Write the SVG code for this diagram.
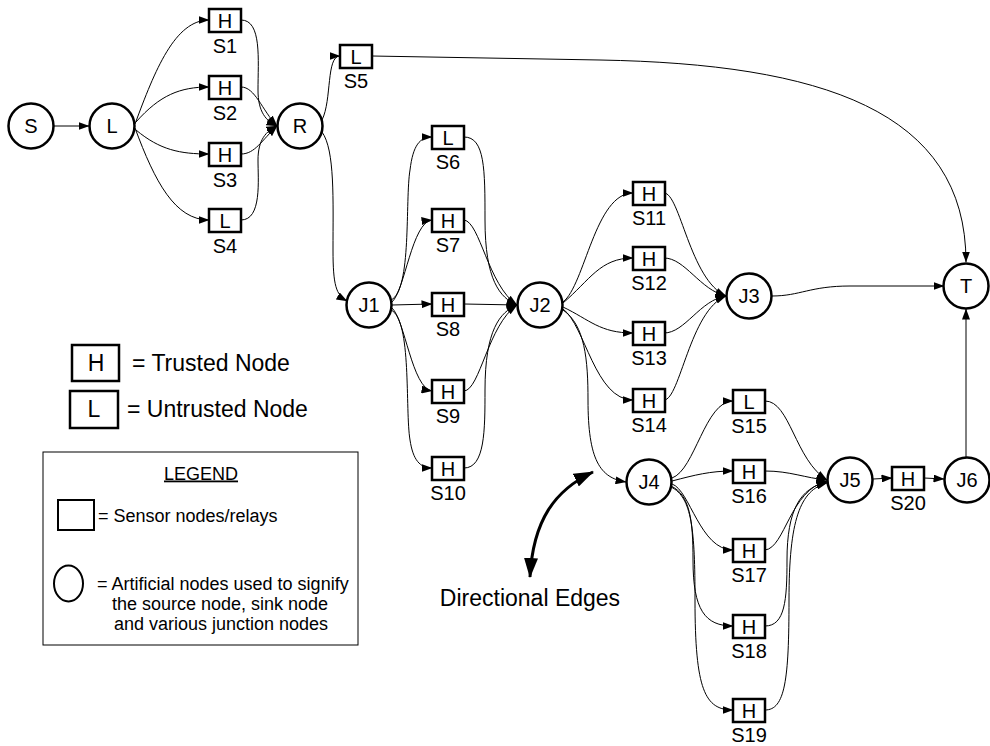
<svg xmlns="http://www.w3.org/2000/svg" width="990" height="746" viewBox="0 0 990 746">
<style>
.c{fill:#fff;stroke:#000;stroke-width:2.5}
.b{fill:#fff;stroke:#000;stroke-width:2.5}
.t{font-family:"Liberation Sans",Arial,sans-serif;font-size:20px;fill:#000;text-anchor:middle}
.e{fill:none;stroke:#000;stroke-width:1;marker-end:url(#ah)}
.lg{font-family:"Liberation Sans",Arial,sans-serif;font-size:18px;fill:#000}
.big{font-family:"Liberation Sans",Arial,sans-serif;font-size:23px;fill:#000}
</style>
<defs>
<marker id="ah" markerUnits="userSpaceOnUse" markerWidth="11" markerHeight="8" refX="10.5" refY="4" orient="auto"><path d="M0,0 L11,4 L0,8 z" fill="#000"/></marker>
<marker id="bh" markerUnits="userSpaceOnUse" markerWidth="20" markerHeight="14" refX="19" refY="7" orient="auto-start-reverse"><path d="M0,0 L20,7 L0,14 z" fill="#000"/></marker>
</defs>
<rect width="990" height="746" fill="#fff"/>
<g id="connectors">
<path class="e" d="M53,126 L89,126"/>
<path class="e" d="M135,124 C155,70 175,20 209,20"/>
<path class="e" d="M136,122 C160,95 180,87 209,87"/>
<path class="e" d="M136,130 C160,150 180,154 209,154"/>
<path class="e" d="M135,128 C155,182 175,220 209,220"/>
<path class="e" d="M241,20 C262,20 258,60 258,90 C258,112 266,121 277,126"/>
<path class="e" d="M241,87 C255,87 262,110 277,126"/>
<path class="e" d="M241,154 C255,154 262,140 277,126"/>
<path class="e" d="M241,220 C262,220 258,180 258,160 C258,140 266,131 277,126"/>
<path class="e" d="M322,120 C332,100 326,56 340,56"/>
<path class="e" d="M322,132 C335,150 333,200 333,250 C333,285 336,295 347,301"/>
<path class="e" d="M372,56 L600,60 C820,64 966,110 966,262"/>
<path class="e" d="M391,300 C412,290 405,200 410,170 C413,145 420,137 432,137"/>
<path class="e" d="M392,302 C405,290 412,222 432,220"/>
<path class="e" d="M392,305 L432,304"/>
<path class="e" d="M392,308 C405,320 412,388 432,391"/>
<path class="e" d="M391,310 C412,320 405,410 410,440 C413,460 420,468 432,468"/>
<path class="e" d="M464,137 C485,137 485,170 485,220 C485,280 500,298 517,305"/>
<path class="e" d="M464,220 C480,222 488,285 517,305"/>
<path class="e" d="M464,304 L517,305"/>
<path class="e" d="M464,391 C480,390 488,325 517,305"/>
<path class="e" d="M464,468 C485,468 485,430 485,390 C485,330 500,312 517,305"/>
<path class="e" d="M563,302 C585,285 595,193 633,193"/>
<path class="e" d="M563,303 C590,280 600,258 633,258"/>
<path class="e" d="M563,307 C590,320 600,333 633,333"/>
<path class="e" d="M563,309 C585,325 595,400 633,400"/>
<path class="e" d="M563,310 C585,325 588,360 588,400 C588,460 600,478 626,482"/>
<path class="e" d="M664,193 C680,193 690,280 726,296"/>
<path class="e" d="M664,258 C685,258 700,290 726,296"/>
<path class="e" d="M664,333 C685,333 700,300 726,296"/>
<path class="e" d="M664,400 C680,400 690,310 726,296"/>
<path class="e" d="M772,296 C800,296 810,286 850,286 L944,286"/>
<path class="e" d="M672,478 C695,470 705,401 733,401"/>
<path class="e" d="M672,481 C695,475 710,471 733,471"/>
<path class="e" d="M672,484 C690,490 700,550 733,550"/>
<path class="e" d="M671,486 C690,495 693,520 693,560 C693,610 705,626 733,626"/>
<path class="e" d="M671,487 C692,497 695,530 695,600 C695,690 705,710 733,710"/>
<path class="e" d="M765,401 C790,401 795,460 827,480"/>
<path class="e" d="M765,471 C790,471 805,478 827,480"/>
<path class="e" d="M765,550 C785,548 790,490 827,481"/>
<path class="e" d="M765,626 C785,626 787,600 787,560 C787,510 800,488 827,482"/>
<path class="e" d="M765,710 C785,710 789,680 789,600 C789,520 800,490 827,483"/>
<path class="e" d="M873,479 L892,478"/>
<path class="e" d="M924,478 L944,479"/>
<path class="e" d="M966,457 L966,309"/>
<path d="M530,577 C533,520 555,490 593,472" fill="none" stroke="#000" stroke-width="3" marker-start="url(#bh)" marker-end="url(#bh)"/>
</g>
<g id="S"><circle class="c" cx="31" cy="126" r="22.5"/><text class="t" x="31" y="133">S</text></g>
<g id="L"><circle class="c" cx="112" cy="126" r="22.5"/><text class="t" x="112" y="133">L</text></g>
<g id="R"><circle class="c" cx="300" cy="126" r="22.5"/><text class="t" x="300" y="133">R</text></g>
<g id="J1"><circle class="c" cx="369" cy="305" r="22.5"/><text class="t" x="369" y="312">J1</text></g>
<g id="J2"><circle class="c" cx="540" cy="305" r="22.5"/><text class="t" x="540" y="312">J2</text></g>
<g id="J3"><circle class="c" cx="749" cy="296" r="22.5"/><text class="t" x="749" y="303">J3</text></g>
<g id="J4"><circle class="c" cx="649" cy="482" r="22.5"/><text class="t" x="649" y="489">J4</text></g>
<g id="J5"><circle class="c" cx="850" cy="480" r="22.5"/><text class="t" x="850" y="487">J5</text></g>
<g id="J6"><circle class="c" cx="967" cy="480" r="22.5"/><text class="t" x="967" y="487">J6</text></g>
<g id="T"><circle class="c" cx="966" cy="286" r="22.5"/><text class="t" x="966" y="293">T</text></g>
<g id="S1"><rect class="b" x="209" y="9" width="32" height="23"/><text class="t" x="225" y="27.5">H</text><text class="t" x="225" y="53">S1</text></g>
<g id="S2"><rect class="b" x="209" y="76" width="32" height="23"/><text class="t" x="225" y="94.5">H</text><text class="t" x="225" y="120">S2</text></g>
<g id="S3"><rect class="b" x="209" y="143" width="32" height="23"/><text class="t" x="225" y="161.5">H</text><text class="t" x="225" y="187">S3</text></g>
<g id="S4"><rect class="b" x="209" y="209" width="32" height="23"/><text class="t" x="225" y="227.5">L</text><text class="t" x="225" y="253">S4</text></g>
<g id="S5"><rect class="b" x="340" y="45" width="32" height="23"/><text class="t" x="356" y="63.5">L</text><text class="t" x="356" y="88">S5</text></g>
<g id="S6"><rect class="b" x="432" y="126" width="32" height="23"/><text class="t" x="448" y="144.5">L</text><text class="t" x="448" y="169">S6</text></g>
<g id="S7"><rect class="b" x="432" y="209" width="32" height="23"/><text class="t" x="448" y="227.5">H</text><text class="t" x="448" y="252">S7</text></g>
<g id="S8"><rect class="b" x="432" y="293" width="32" height="23"/><text class="t" x="448" y="311.5">H</text><text class="t" x="448" y="336">S8</text></g>
<g id="S9"><rect class="b" x="432" y="380" width="32" height="23"/><text class="t" x="448" y="398.5">H</text><text class="t" x="448" y="423">S9</text></g>
<g id="S10"><rect class="b" x="432" y="457" width="32" height="23"/><text class="t" x="448" y="475.5">H</text><text class="t" x="448" y="500">S10</text></g>
<g id="S11"><rect class="b" x="633" y="182" width="32" height="23"/><text class="t" x="649" y="200.5">H</text><text class="t" x="649" y="225">S11</text></g>
<g id="S12"><rect class="b" x="633" y="247" width="32" height="23"/><text class="t" x="649" y="265.5">H</text><text class="t" x="649" y="290">S12</text></g>
<g id="S13"><rect class="b" x="633" y="322" width="32" height="23"/><text class="t" x="649" y="340.5">H</text><text class="t" x="649" y="365">S13</text></g>
<g id="S14"><rect class="b" x="633" y="389" width="32" height="23"/><text class="t" x="649" y="407.5">H</text><text class="t" x="649" y="432">S14</text></g>
<g id="S15"><rect class="b" x="733" y="390" width="32" height="23"/><text class="t" x="749" y="408.5">L</text><text class="t" x="749" y="433">S15</text></g>
<g id="S16"><rect class="b" x="733" y="460" width="32" height="23"/><text class="t" x="749" y="478.5">H</text><text class="t" x="749" y="503">S16</text></g>
<g id="S17"><rect class="b" x="733" y="539" width="32" height="23"/><text class="t" x="749" y="557.5">H</text><text class="t" x="749" y="582">S17</text></g>
<g id="S18"><rect class="b" x="733" y="615" width="32" height="23"/><text class="t" x="749" y="633.5">H</text><text class="t" x="749" y="658">S18</text></g>
<g id="S19"><rect class="b" x="733" y="699" width="32" height="23"/><text class="t" x="749" y="717.5">H</text><text class="t" x="749" y="742">S19</text></g>
<g id="S20"><rect class="b" x="892" y="467" width="32" height="23"/><text class="t" x="908" y="485.5">H</text><text class="t" x="908" y="510">S20</text></g>
<g id="key-trusted"><rect class="b" x="72" y="345" width="47" height="36"/><text class="big" x="96" y="371" text-anchor="middle">H</text><text class="big" x="132" y="371">= Trusted Node</text></g>
<g id="key-untrusted"><rect class="b" x="70" y="391" width="48" height="37"/><text class="big" x="94" y="417" text-anchor="middle">L</text><text class="big" x="127" y="417">= Untrusted Node</text></g>
<g id="legend">
<rect x="43" y="452" width="315" height="193" fill="#fff" stroke="#000" stroke-width="1"/>
<text class="lg" x="201" y="479.5" text-anchor="middle" text-decoration="underline">LEGEND</text>
<rect x="58" y="500" width="36" height="30" fill="#fff" stroke="#000" stroke-width="2"/>
<text class="lg" x="98" y="521.5">= Sensor nodes/relays</text>
<ellipse cx="68.5" cy="583.5" rx="14.5" ry="18" fill="#fff" stroke="#000" stroke-width="2"/>
<text class="lg" x="97" y="589.5">= Artificial nodes used to signify</text>
<text class="lg" x="220" y="609.5" text-anchor="middle">the source node, sink node</text>
<text class="lg" x="221" y="629.5" text-anchor="middle">and various junction nodes</text>
</g>
<text class="big" x="530" y="606" text-anchor="middle">Directional Edges</text>
</svg>
